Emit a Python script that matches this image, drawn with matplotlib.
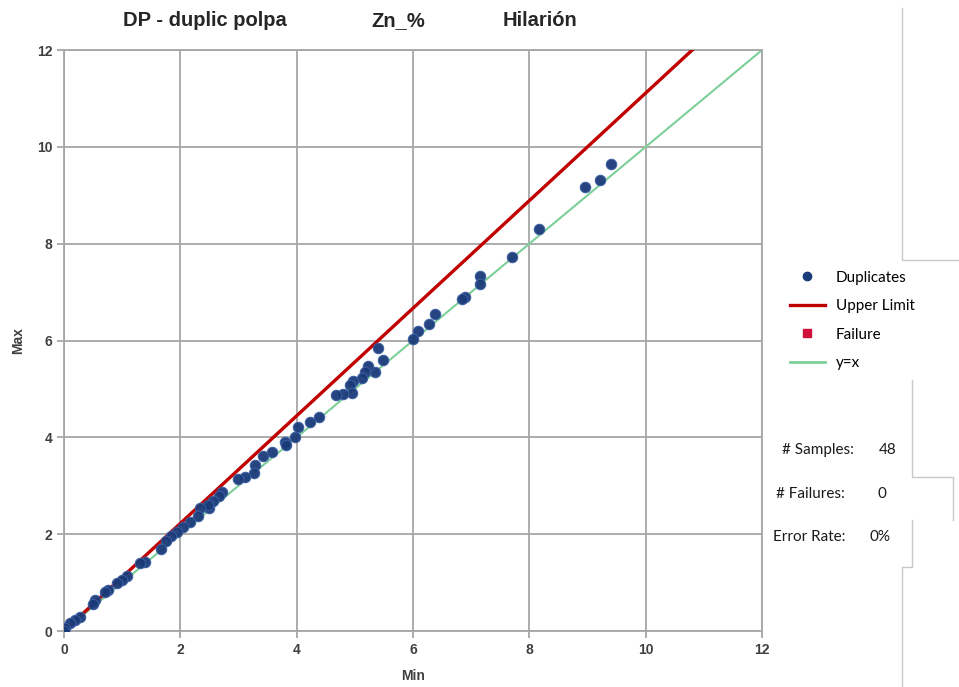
import matplotlib.pyplot as plt
from matplotlib.lines import Line2D

# duplicate pairs (min, max)
dup_min = [9.40, 9.21, 8.96, 8.17, 7.70, 7.15, 7.15, 6.89, 6.84, 6.38, 6.28, 6.09, 6.00,
           5.40, 5.48, 5.35, 5.23, 5.17, 5.12, 4.97, 4.92, 4.95, 4.80, 4.68, 4.38, 4.23,
           4.02, 3.97, 3.80, 3.82, 3.57, 3.43, 3.28, 3.27, 3.11, 3.00, 2.72, 2.66, 2.56,
           2.50, 2.48, 2.34, 2.30, 2.17, 2.05, 1.95, 1.84, 1.76, 1.66, 1.39, 1.31, 1.08,
           1.00, 0.91, 0.76, 0.70, 0.53, 0.50, 0.27, 0.19, 0.10, 0.02, 0.00]
dup_max = [9.64, 9.31, 9.17, 8.31, 7.72, 7.33, 7.17, 6.90, 6.86, 6.55, 6.34, 6.20, 6.04,
           5.85, 5.60, 5.35, 5.47, 5.35, 5.22, 5.17, 5.08, 4.91, 4.89, 4.87, 4.42, 4.32,
           4.21, 4.00, 3.90, 3.84, 3.70, 3.62, 3.42, 3.26, 3.19, 3.14, 2.87, 2.79, 2.68,
           2.54, 2.60, 2.54, 2.37, 2.25, 2.15, 2.04, 1.96, 1.86, 1.70, 1.43, 1.40, 1.14,
           1.05, 0.99, 0.85, 0.80, 0.64, 0.55, 0.29, 0.23, 0.16, 0.06, 0.00]
fail_min = []
fail_max = []
upper_x = [0, 10.8]
upper_y = [0, 12]
ident = [0, 12]
ticks = [0, 2, 4, 6, 8, 10, 12]

fig = plt.figure(figsize=(9.59, 6.87), dpi=100)
ax = fig.add_axes([0.0667, 0.0815, 0.7279, 0.8457])

ax.plot(upper_x, upper_y, color='#c00000', lw=2.4, zorder=3)
ax.plot(ident, ident, color='#7dcf98', lw=1.5, zorder=2)
ax.plot(dup_min, dup_max, 'o', color='#1a3a78', ms=7.5, mec='#3a5da0', mew=0.8, alpha=0.95, zorder=4)
ax.plot(fail_min, fail_max, 's', color='#d0103a', ms=6)

ax.set_xlim(0, 12)
ax.set_ylim(0, 12)
ax.set_xticks(ticks)
ax.set_yticks(ticks)
ax.grid(True, color='#a6a6a6', lw=1.3)
for s in ax.spines.values():
    s.set_color('#a6a6a6')
    s.set_linewidth(1.3)
ax.tick_params(colors='#a6a6a6', length=5, width=1.3, labelcolor='#404040')
for lab in ax.get_xticklabels() + ax.get_yticklabels():
    lab.set_fontfamily('Liberation Sans')
    lab.set_fontweight('bold')
    lab.set_fontsize(10)

ax.set_xlabel('Min', fontfamily='Liberation Sans', fontweight='bold', fontsize=10, color='#404040', labelpad=9)
ax.set_ylabel('Max', fontfamily='Liberation Sans', fontweight='bold', fontsize=10, color='#404040', labelpad=8)

tkw = dict(fontfamily='Liberation Sans', fontweight='bold', fontsize=14.5, color='#262626', va='center', ha='center')
fig.text(205 / 959, 1 - 21 / 687, 'DP - duplic polpa', **tkw)
fig.text(398 / 959, 1 - 21 / 687, 'Zn_%', **tkw)
fig.text(540 / 959, 1 - 21 / 687, 'Hilarión', **tkw)

handles = [
    Line2D([], [], ls='none', marker='o', color='#1a3a78', ms=6),
    Line2D([], [], color='#c00000', lw=2.4),
    Line2D([], [], ls='none', marker='s', color='#d0103a', ms=5.5),
    Line2D([], [], color='#7dcf98', lw=2),
]
fig.legend(handles, ['Duplicates', 'Upper Limit', 'Failure', 'y=x'],
           loc='upper left', bbox_to_anchor=(776 / 959, 1 - 257 / 687),
           frameon=False, prop={'family': 'Lato', 'size': 11},
           labelspacing=0.95, handlelength=2.3, handletextpad=0.7)

skw = dict(fontfamily='Lato', fontsize=11, color='#1a1a1a', va='center')
fig.text(782 / 959, 1 - 450 / 687, '# Samples:', **skw)
fig.text(879 / 959, 1 - 450 / 687, '48', **skw)
fig.text(776 / 959, 1 - 494 / 687, '# Failures:', **skw)
fig.text(877 / 959, 1 - 494 / 687, '0', **skw)
fig.text(773 / 959, 1 - 537 / 687, 'Error Rate:', **skw)
fig.text(870 / 959, 1 - 537 / 687, '0%', **skw)

# faint panel borders on the right
W, H = 959, 687
box_x = [[902, 902, 959], [912, 912, 953, 953], [912, 912, 902, 902]]
box_y = [[8, 260, 260], [380, 477, 477, 520], [520, 567, 567, 687]]
for bx, by in zip(box_x, box_y):
    fig.add_artist(Line2D([v / W for v in bx], [1 - v / H for v in by], color='#c8c8c8', lw=1))

plt.savefig('out.png')
